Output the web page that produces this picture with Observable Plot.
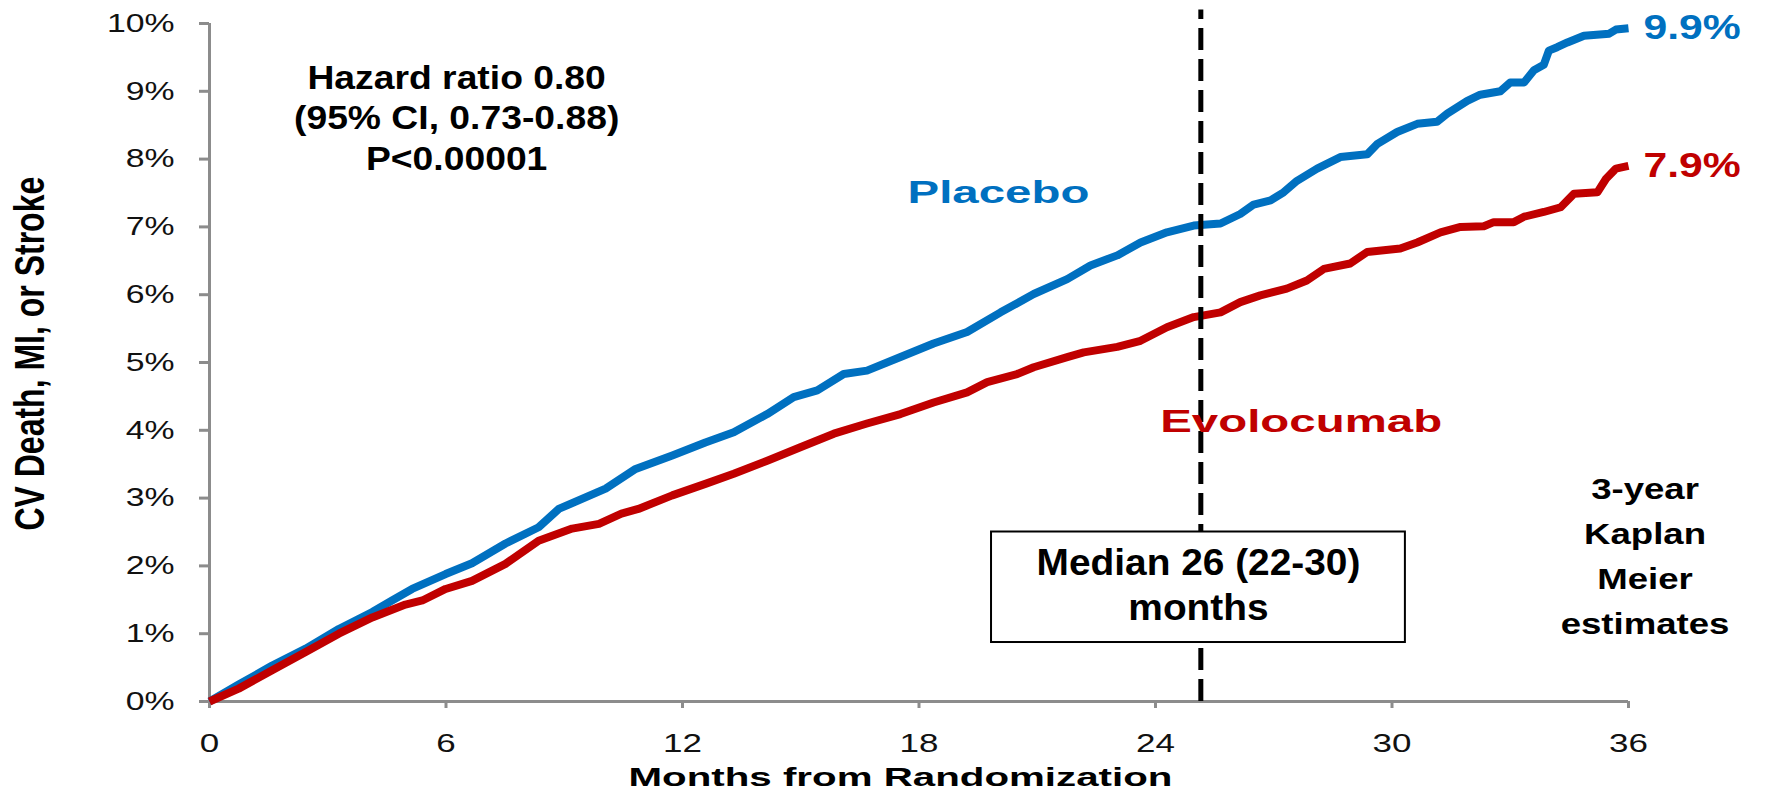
<!DOCTYPE html>
<html>
<head>
<meta charset="utf-8">
<script src="https://cdn.jsdelivr.net/npm/d3@7"></script>
<script src="https://cdn.jsdelivr.net/npm/@observablehq/plot@0.6"></script>
<style>
  html, body { margin: 0; padding: 0; background: #ffffff; }
  svg { display: block; }
</style>
</head>
<body>
<div id="chart"></div>
<script>
// ---------- data ----------
const seriesNames = ["Placebo", "Evolocumab"];
const seriesColors = ["#0070C0", "#C00000"];
const endLabels = ["9.9%", "7.9%"];

const placeboMonths = [0, 0.74, 1.59, 2.44, 3.28, 4.13, 4.63, 5.14, 5.99, 6.66, 7.51, 8.35, 8.86, 10.05, 10.81, 11.74, 12.58, 13.3, 14.15, 14.82, 15.42, 16.09, 16.68, 17.53, 18.37, 19.22, 20.07, 20.91, 21.76, 22.35, 23.03, 23.62, 24.29, 24.97, 25.65, 26.15, 26.49, 26.92, 27.25, 27.59, 28.1, 28.69, 29.37, 29.62, 30.13, 30.64, 31.14, 31.4, 31.91, 32.24, 32.75, 33.0, 33.35, 33.6, 33.85, 33.98, 34.19, 34.45, 34.87, 35.51, 35.68, 36.0];
const placeboPct = [0, 0.25, 0.53, 0.78, 1.07, 1.32, 1.49, 1.66, 1.88, 2.04, 2.33, 2.57, 2.84, 3.14, 3.43, 3.63, 3.82, 3.97, 4.24, 4.49, 4.59, 4.83, 4.88, 5.08, 5.28, 5.45, 5.74, 6.01, 6.23, 6.43, 6.58, 6.77, 6.92, 7.02, 7.05, 7.19, 7.33, 7.39, 7.51, 7.68, 7.86, 8.03, 8.07, 8.22, 8.40, 8.52, 8.55, 8.67, 8.86, 8.95, 9.00, 9.13, 9.13, 9.31, 9.39, 9.60, 9.65, 9.72, 9.82, 9.85, 9.91, 9.93];

const evoMonths = [0, 0.74, 1.59, 2.44, 3.28, 4.13, 4.97, 5.4, 5.99, 6.66, 7.51, 8.35, 9.2, 9.88, 10.45, 10.88, 11.74, 12.58, 13.3, 14.15, 14.99, 15.84, 16.68, 17.53, 18.37, 19.22, 19.73, 20.49, 20.91, 21.76, 22.18, 23.03, 23.62, 24.29, 24.97, 25.65, 26.15, 26.66, 27.33, 27.84, 28.27, 28.94, 29.37, 30.21, 30.64, 31.23, 31.74, 32.33, 32.58, 33.09, 33.35, 33.85, 34.28, 34.62, 35.21, 35.43, 35.68, 36.0];
const evoPct = [0, 0.19, 0.46, 0.73, 1.00, 1.24, 1.43, 1.49, 1.66, 1.78, 2.03, 2.37, 2.55, 2.62, 2.77, 2.84, 3.04, 3.21, 3.36, 3.55, 3.75, 3.95, 4.10, 4.24, 4.41, 4.56, 4.71, 4.83, 4.93, 5.08, 5.15, 5.23, 5.32, 5.52, 5.67, 5.74, 5.89, 5.99, 6.09, 6.21, 6.38, 6.46, 6.63, 6.68, 6.77, 6.92, 7.00, 7.01, 7.07, 7.07, 7.15, 7.22, 7.29, 7.49, 7.51, 7.71, 7.86, 7.90];

const xTicks = [0, 6, 12, 18, 24, 30, 36];
const yTicks = [0, 1, 2, 3, 4, 5, 6, 7, 8, 9, 10];

const xTitle = "Months from Randomization";
const yTitle = "CV Death, MI, or Stroke";
const hazardText = "Hazard ratio 0.80\n(95% CI, 0.73-0.88)\nP<0.00001";
const medianText = "Median 26 (22-30)\nmonths";
const kmText = "3-year\nKaplan\nMeier\nestimates";
const medianLineMonth = 25.15;   // where the dashed line is drawn
const medianBox = [{x1: 19.84, x2: 30.34, y1: 0.87, y2: 2.50}];

// ---------- build table ----------
const rows = [
  ...placeboMonths.map((m, i) => ({series: seriesNames[0], month: m, pct: placeboPct[i]})),
  ...evoMonths.map((m, i) => ({series: seriesNames[1], month: m, pct: evoPct[i]}))
];
const ends = [
  {series: seriesNames[0], month: placeboMonths[placeboMonths.length - 1], pct: placeboPct[placeboPct.length - 1], label: endLabels[0]},
  {series: seriesNames[1], month: evoMonths[evoMonths.length - 1], pct: evoPct[evoPct.length - 1], label: endLabels[1]}
];

const gray = "#8c8c8c";
const font = "'Liberation Sans', Arial, Helvetica, sans-serif";

const chart = Plot.plot({
  width: 1765,
  height: 799,
  marginLeft: 209,
  marginRight: 137,
  marginTop: 23,
  marginBottom: 98,
  style: {fontFamily: font, background: "#ffffff", color: "#111"},
  x: {domain: [0, 36]},
  y: {domain: [0, 10]},
  color: {domain: seriesNames, range: seriesColors},
  marks: [
    Plot.ruleX([0], {stroke: gray, strokeWidth: 3}),
    Plot.ruleY([0], {stroke: gray, strokeWidth: 3}),
    Plot.axisY({ticks: yTicks, tickFormat: d => d + "%", tickSize: 10, tickPadding: 25, stroke: gray, strokeWidth: 3, fill: "#111", fontSize: 26, label: null}),
    Plot.axisX({ticks: xTicks, tickFormat: d => String(d), tickSize: 7, tickPadding: 26, stroke: gray, strokeWidth: 3, fill: "#111", fontSize: 25, label: null}),
    Plot.line(rows, {x: "month", y: "pct", z: "series", stroke: "series", strokeWidth: 8, strokeLinejoin: "round", strokeLinecap: "butt"}),
    Plot.ruleX([medianLineMonth], {y1: 0, y2: 10.2, stroke: "#000", strokeWidth: 5, strokeDasharray: "22,9"}),
    Plot.rect(medianBox, {x1: "x1", x2: "x2", y1: "y1", y2: "y2", fill: "#fff", stroke: "#000", strokeWidth: 2}),
    Plot.text([medianText], {ariaDescription: "median-text", x: () => 25.09, y: () => 1.74, fontSize: 37, fontWeight: "bold", fill: "#000", textAnchor: "middle", lineAnchor: "middle", lineHeight: 1.216}),
    Plot.text([hazardText], {ariaDescription: "hazard-text", x: () => 6.27, y: () => 8.63, fontSize: 33, fontWeight: "bold", fill: "#000", textAnchor: "middle", lineAnchor: "middle", lineHeight: 1.23}),
    Plot.text([kmText], {ariaDescription: "km-text", x: () => 36.42, y: () => 2.2, fontSize: 30, fontWeight: "bold", fill: "#000", textAnchor: "middle", lineAnchor: "middle", lineHeight: 1.5}),
    Plot.text([seriesNames[0]], {ariaDescription: "series-label", x: () => 17.71, y: () => 7.5, fontSize: 31, fontWeight: "bold", fill: seriesColors[0], textAnchor: "start", lineAnchor: "middle"}),
    Plot.text([seriesNames[1]], {ariaDescription: "series-label", x: () => 24.12, y: () => 4.12, fontSize: 31, fontWeight: "bold", fill: seriesColors[1], textAnchor: "start", lineAnchor: "middle"}),
    Plot.text(ends, {ariaDescription: "end-label", x: "month", y: "pct", text: "label", fill: "series", dx: 15, fontSize: 35, fontWeight: "bold", textAnchor: "start", lineAnchor: "middle"}),
    Plot.text([xTitle], {ariaDescription: "x-title", x: () => 17.53, frameAnchor: "bottom", dy: 76, fontSize: 26, fontWeight: "bold", fill: "#000", textAnchor: "middle", lineAnchor: "middle"}),
    Plot.text([yTitle], {ariaDescription: "y-title", y: () => 5.13, frameAnchor: "left", dx: -179, rotate: -90, fontSize: 32, fontWeight: "bold", fill: "#000", textAnchor: "middle", lineAnchor: "middle"})
  ]
});

document.getElementById("chart").appendChild(chart);

// ---------- horizontally widen text to match the stretched look of the original ----------
function stretch(selector, sx, sy) {
  chart.querySelectorAll(selector).forEach(t => {
    let tr = t.getAttribute("transform");
    if (!tr) {
      const x = t.getAttribute("x") || 0, y = t.getAttribute("y") || 0;
      t.removeAttribute("x"); t.removeAttribute("y");
      tr = `translate(${x},${y})`;
    }
    t.setAttribute("transform", `${tr} scale(${sx},${sy})`);
  });
}
stretch('g[aria-label="y-axis tick label"] text', 1.3, 1);
stretch('g[aria-label="x-axis tick label"] text', 1.4, 1);
stretch('g[aria-description="series-label"] text', 1.53, 1);
stretch('g[aria-description="end-label"] text', 1.22, 1);
stretch('g[aria-description="hazard-text"] text', 1.13, 1);
stretch('g[aria-description="median-text"] text', 1.05, 1);
stretch('g[aria-description="km-text"] text', 1.22, 1);
stretch('g[aria-description="x-title"] text', 1.55, 1);
stretch('g[aria-description="y-title"] text', 1, 1.3);
</script>
</body>
</html>
